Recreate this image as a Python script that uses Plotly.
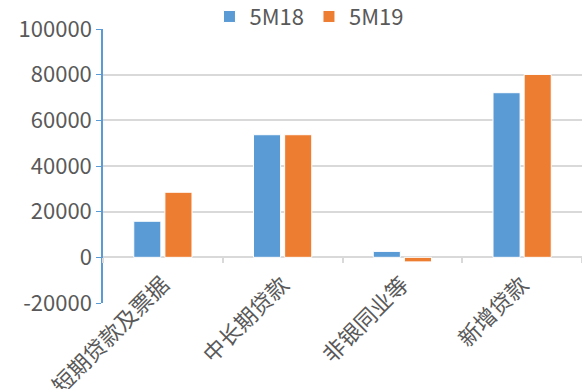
import plotly.graph_objects as go

categories = ["短期贷款及票据", "中长期贷款", "非银同业等", "新增贷款"]
s_5m18 = [15800, 53700, 2600, 72100]
s_5m19 = [28500, 53700, -2000, 80100]
series_names = ["5M18", "5M19"]
y_ticks = [-20000, 0, 20000, 40000, 60000, 80000, 100000]
y_tick_text = ["-20000", "0", "20000", "40000", "60000", "80000", "100000"]

BLUE = "#5B9BD5"
ORANGE = "#ED7D31"
GRID = "#D9D9D9"
TXT = "#595959"
FONT = "Noto Sans CJK SC"

fig = go.Figure()
fig.add_bar(x=categories, y=s_5m18, name=series_names[0], marker=dict(color=BLUE, line=dict(color="white", width=1)))
fig.add_bar(x=categories, y=s_5m19, name=series_names[1], marker=dict(color=ORANGE, line=dict(color="white", width=1)))
# invisible trace for the zero-line category axis
fig.add_scatter(x=categories, y=[0]*4, xaxis="x2", mode="markers", marker=dict(opacity=0), showlegend=False, hoverinfo="skip")

fig.update_layout(
    width=582, height=389,
    margin=dict(l=103, r=0, t=29, b=86, autoexpand=False),
    paper_bgcolor="white", plot_bgcolor="white",
    font=dict(family=FONT, size=20, color=TXT),
    barmode="group", bargap=0.48, bargroupgap=0.13,
    legend=dict(orientation="h", x=0.43, xanchor="center", y=1.045, yanchor="middle",
                font=dict(size=22, color=TXT), itemwidth=30, tracegroupgap=0),
    yaxis=dict(range=[-20000, 100000], tickvals=y_ticks, ticktext=y_tick_text, automargin=False,
               showgrid=True, gridcolor=GRID, gridwidth=1.5,
               zeroline=True, zerolinecolor=GRID, zerolinewidth=1.5,
               showline=True, linecolor=BLUE, linewidth=1.5, ticks="outside", tickcolor=BLUE, ticklen=5,
               tickfont=dict(size=22, color=TXT)),
    xaxis=dict(type="category", categoryarray=categories, range=[-0.5, 3.5], showline=False, ticks="",
               showticklabels=False, showgrid=False, automargin=False),
    xaxis2=dict(type="category", categoryarray=categories, range=[-0.5, 3.5], overlaying="x", anchor="free",
                position=1/6, showline=False, ticks="outside", tickson="boundaries", ticklen=5,
                tickcolor=GRID, tickwidth=1.5, showticklabels=True, tickangle=-45,
                tickfont=dict(size=22, color=TXT), ticklabelstandoff=9, showgrid=False, automargin=False),
)

fig.write_html("out.html")
